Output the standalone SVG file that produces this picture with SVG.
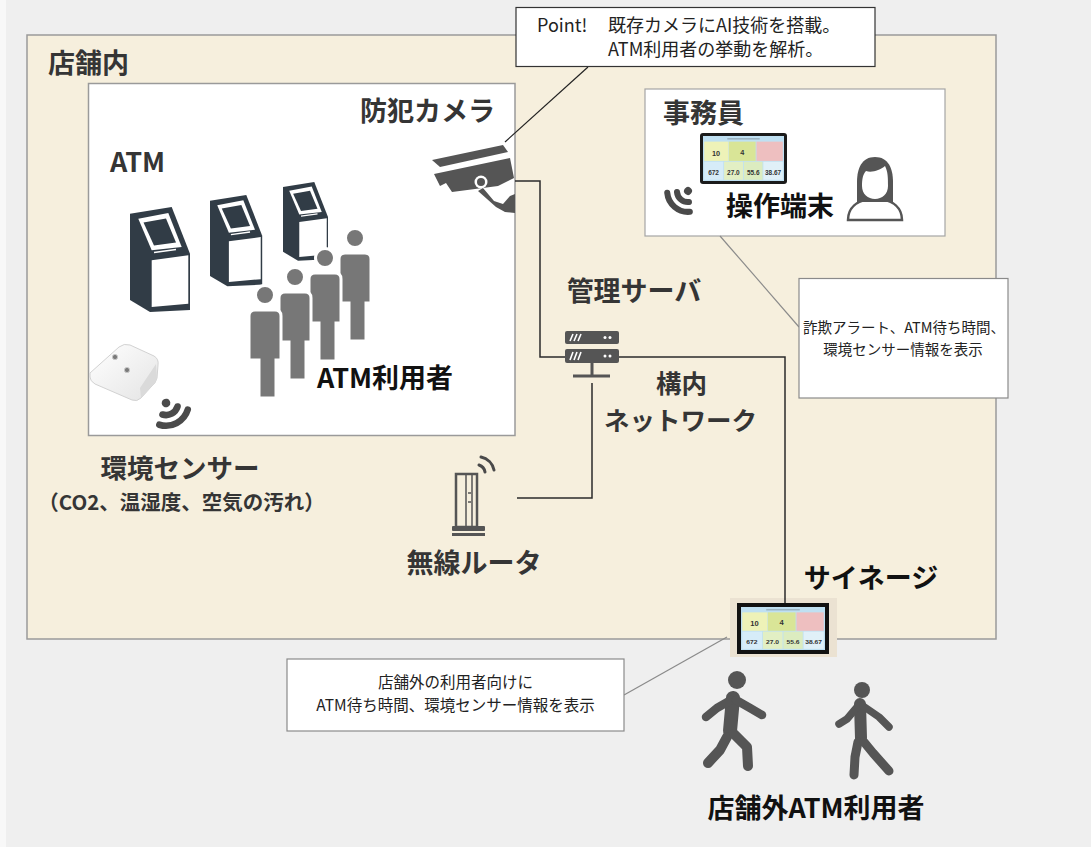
<svg xmlns="http://www.w3.org/2000/svg" xmlns:xlink="http://www.w3.org/1999/xlink" width="1091" height="847" viewBox="0 0 1091 847">
  <style>
    .lbl{font-family:"Noto Sans CJK JP","Noto Sans",sans-serif;font-weight:700;font-size:27px;fill:#353535;text-anchor:middle}
    .blk{fill:#111}
    .note{font-family:"Noto Sans CJK JP","Noto Sans",sans-serif;font-size:15.5px;fill:#222;text-anchor:middle}
    .pt{font-family:"Noto Sans CJK JP","Noto Sans",sans-serif;font-size:18px;fill:#222}
    .conn{stroke:#2b2b2b;stroke-width:1.5;fill:none}
    .lead{stroke:#8a8a8a;stroke-width:1.2;fill:none}
    .ico{fill:#555}
    .wave{fill:none;stroke:#4a4a4a;stroke-linecap:round}
    .walk{fill:none;stroke:#555;stroke-linecap:round;stroke-linejoin:round}
    .dnum{font-family:"Liberation Sans",sans-serif;font-weight:700;fill:#333;text-anchor:middle}
  </style>
  <defs>
    <!-- monitoring dashboard shown on tablet and signage -->
    <symbol id="dash" viewBox="0 0 100 56" preserveAspectRatio="none">
      <rect width="100" height="56" fill="#bfe0f2"/>
      <rect x="30" y="2.5" width="40" height="2" fill="#9bb4c2"/>
      <rect x="1.5" y="7" width="30" height="24" fill="#eef2b8"/>
      <rect x="32" y="7" width="33" height="24" fill="#d9e597"/>
      <rect x="66" y="7" width="32.5" height="24" fill="#eebfc0"/>
      <rect x="1.5" y="32" width="23.5" height="22.5" fill="#d6ecf8"/>
      <rect x="26" y="32" width="23.5" height="22.5" fill="#e2efc4"/>
      <rect x="50.5" y="32" width="23" height="22.5" fill="#dcecc0"/>
      <rect x="74.5" y="32" width="24" height="22.5" fill="#e0f0f8"/>
      <text class="dnum" x="16" y="25" font-size="9">10</text>
      <text class="dnum" x="48.5" y="24" font-size="9">4</text>
      <text class="dnum" x="13" y="48" font-size="8">672</text>
      <text class="dnum" x="37.5" y="48" font-size="8">27.0</text>
      <text class="dnum" x="62" y="48" font-size="8">55.6</text>
      <text class="dnum" x="86.5" y="48" font-size="8">38.67</text>
    </symbol>
    <!-- kiosk silhouette -->
    <g id="kiosk">
      <path d="M0,6.7 L41.7,0 L60,46.7 L60,103 L20,105 L0,93 Z" fill="#313c46"/>
      <path d="M8.3,11.7 L38.3,6 L51.7,40 L21.7,43.3 Z" fill="#fff"/>
      <path d="M13.5,15.5 L36,11.5 L46,35.5 L24,38.5 Z" fill="#313c46"/>
      <path d="M24,45.5 L46,42.5" stroke="#fff" stroke-width="1.6"/>
      <path d="M21.7,53.3 L58.3,48.3 L58.3,96.7 L21.7,100 Z" fill="#fff"/>
    </g>
    <!-- queued person -->
    <g id="pax">
      <circle cx="16" cy="-15" r="9.5"/>
      <path d="M0,6 Q0,0 6,0 L26,0 Q32,0 32,6 L32,50 L27,50 L27,88 L10,88 L10,50 L0,50 Z"/>
    </g>
    <!-- wireless signal, pointing along +x -->
    <g id="wave">
      <circle cx="0" cy="0" r="3.6" fill="#4a4a4a"/>
      <path class="wave" stroke-width="5.5" d="M7.1,-7.1 A10,10 0 0 1 7.1,7.1"/>
      <path class="wave" stroke-width="5.5" d="M13.4,-13.4 A19,19 0 0 1 13.4,13.4"/>
    </g>
    <linearGradient id="boxg" x1="0" y1="0" x2="1" y2="1">
      <stop offset="0" stop-color="#ffffff"/>
      <stop offset="1" stop-color="#e4e4e4"/>
    </linearGradient>
  </defs>

  <!-- backdrop -->
  <rect width="1091" height="847" fill="#efefef"/>
  <rect width="6" height="847" fill="#f8f8f8"/>

  <!-- store area -->
  <g id="store">
    <rect x="27" y="35" width="969" height="604" fill="#f6efdd" stroke="#9a9a9a" stroke-width="1.5"/>
    <text class="lbl" x="88.5" y="73">店舗内</text>
  </g>

  <!-- ATM corner -->
  <g id="atm-area">
    <rect x="88.5" y="83.5" width="426.5" height="352" fill="#fff" stroke="#9a9a9a" stroke-width="1.5"/>
  </g>

  <g id="node-atm">
    <text class="lbl" x="137.5" y="172">ATM</text>
    <use href="#kiosk" transform="translate(130,207)"/>
    <use href="#kiosk" transform="translate(210,195) scale(0.87)"/>
    <use href="#kiosk" transform="translate(283,182) scale(0.75)"/>
  </g>

  <g id="node-users" fill="#777" stroke="#fff" stroke-width="3">
    <use href="#pax" transform="translate(339,253)"/>
    <use href="#pax" transform="translate(309,273)"/>
    <use href="#pax" transform="translate(279,292)"/>
    <use href="#pax" transform="translate(249,310)"/>
    <text class="lbl blk" x="385" y="388" stroke="none">ATM利用者</text>
  </g>

  <g id="node-sensor">
    <path d="M90,373 L119,347 Q124,343 130,345 L154,356 Q159,359 158,365 L157,378 Q156,383 151,387 L141,398 Q137,402 132,400 L95,384 Q90,381 90,377 Z" fill="url(#boxg)" stroke="#d2d2d2" stroke-width="1"/>
    <path d="M140,388 L156,364 L157,378 Q156,383 151,387 L141,398 Z" fill="#dadada"/>
    <circle cx="115" cy="357" r="2.6" fill="#7a7a7a" stroke="#c8c8c8" stroke-width="1"/>
    <circle cx="127" cy="370" r="2.6" fill="#7a7a7a" stroke="#c8c8c8" stroke-width="1"/>
    <use href="#wave" transform="translate(166,403) rotate(62) scale(1.2)"/>
    <text class="lbl" style="font-size:26.5px"><tspan x="180" y="478">環境センサー</tspan><tspan x="181.5" y="510" style="font-size:20.5px">（CO2、温湿度、空気の汚れ）</tspan></text>
  </g>

  <g id="node-camera">
    <text class="lbl" x="427.5" y="121">防犯カメラ</text>
    <path class="ico" d="M432,160 L503,145 L508,152 L440,167 Z"/>
    <path class="ico" d="M434,174 L510,158 L514,178 L498,186 L452,192 L446,183 L440,186 Z"/>
    <circle cx="481" cy="182" r="6.5" fill="#fff"/>
    <circle cx="481" cy="182" r="4" fill="#555"/>
    <path class="ico" d="M483,188 L494,201 L503,204 L510,196 L515,194 L515,213 L505,212 L496,207 L478,191 Z"/>
  </g>

  <g id="node-clerk">
    <rect x="645" y="89" width="300" height="147" fill="#fff" stroke="#a5a5a5" stroke-width="1.2"/>
    <text class="lbl" x="703.5" y="123">事務員</text>
    <rect x="700" y="133" width="87" height="51" rx="3" fill="#1b1b1b"/>
    <use href="#dash" x="703" y="136" width="81" height="45"/>
    <use href="#wave" transform="translate(688,191) rotate(130) scale(1.1)"/>
    <text class="lbl blk" x="780" y="216">操作端末</text>
    <path d="M848,220 C848,207 858,201 868,199 L882,199 C892,201 902,207 902,220 Z" fill="#fff" stroke="#555" stroke-width="2.5"/>
    <path class="ico" d="M875,157 C862,157 857,168 857,182 L857,202 L893,202 L893,182 C893,168 888,157 875,157 Z"/>
    <path d="M866,171 C872,173 880,170 885,166 C888,172 888,178 888,186 C888,194 882,199 875,199 C868,199 862,194 862,186 C862,179 863,174 866,171 Z" fill="#fff"/>
  </g>

  <g id="node-server">
    <text class="lbl" x="634" y="301">管理サーバ</text>
    <rect class="ico" x="565" y="331" width="54" height="13" rx="2"/>
    <rect class="ico" x="565" y="349" width="54" height="14" rx="2"/>
    <g stroke="#fff" stroke-width="1.6">
      <path d="M570,341 L573,334 M574,341 L577,334 M578,341 L581,334"/>
      <path d="M570,360 L573,352 M574,360 L577,352 M578,360 L581,352"/>
    </g>
    <g fill="#fff">
      <circle cx="605" cy="337.5" r="1.5"/><circle cx="610" cy="337.5" r="1.5"/>
      <circle cx="605" cy="356" r="1.5"/><circle cx="610" cy="356" r="1.5"/>
    </g>
    <path d="M592,363 V376 M573,376 H610" stroke="#555" stroke-width="3"/>
  </g>

  <g id="node-network">
    <text class="lbl" style="font-size:25.5px"><tspan x="681.5" y="393">構内</tspan><tspan x="680.5" y="430">ネットワーク</tspan></text>
  </g>

  <g id="node-router">
    <rect x="456" y="474" width="21" height="53" fill="none" stroke="#555" stroke-width="2.5"/>
    <path d="M466,474 V527 M472,474 V527 M468,493 H471 M468,502 H471" stroke="#555" stroke-width="1.5"/>
    <rect class="ico" x="452" y="526" width="33" height="5" rx="1"/>
    <rect class="ico" x="452" y="533" width="33" height="3"/>
    <path class="wave" stroke-width="3" d="M479,465 A9,9 0 0 1 485,472"/>
    <path class="wave" stroke-width="3" d="M481,457 A17,17 0 0 1 494,470"/>
    <text class="lbl" x="474" y="573">無線ルータ</text>
  </g>

  <g id="node-signage">
    <text class="lbl blk" x="871" y="588">サイネージ</text>
    <rect x="730" y="598" width="107" height="59" fill="#ebe2d2"/>
    <rect x="737" y="603" width="92" height="51" fill="#111"/>
    <use href="#dash" x="741" y="607" width="84" height="43"/>
  </g>

  <g id="node-outside-users">
    <circle cx="737" cy="680" r="9" fill="#555"/>
    <path class="walk" stroke-width="14" d="M733,698 L730,731"/>
    <path class="walk" stroke-width="8.5" d="M731,700 L717,708 L706,717"/>
    <path class="walk" stroke-width="8.5" d="M736,700 L750,708 L762,715"/>
    <path class="walk" stroke-width="10" d="M727,737 L720,750 L708,763"/>
    <path class="walk" stroke-width="10" d="M734,734 L747,747 L748,766"/>
    <circle cx="862" cy="690" r="8" fill="#555"/>
    <path class="walk" stroke-width="12" d="M860,704 L861,738"/>
    <path class="walk" stroke-width="7.5" d="M858,706 L847,719 L839,724"/>
    <path class="walk" stroke-width="7.5" d="M863,706 L879,717 L889,727"/>
    <path class="walk" stroke-width="9" d="M858,742 L855,757 L854,775"/>
    <path class="walk" stroke-width="9" d="M864,742 L873,753 L889,771"/>
    <text class="lbl blk" x="816" y="818">店舗外ATM利用者</text>
  </g>

  <!-- network cabling -->
  <g id="connectors">
    <path class="conn" d="M515,181 H540 V357 H565"/>
    <path class="conn" d="M619,357 H785 V603"/>
    <path class="conn" d="M517,498 H592 V383"/>
  </g>

  <!-- explanatory call-outs -->
  <g id="callouts">
    <line x1="588" y1="67" x2="505" y2="142" stroke="#222" stroke-width="1.2"/>
    <rect x="516" y="7.5" width="359" height="59" fill="#fff" stroke="#333" stroke-width="1.2"/>
    <text class="pt"><tspan x="537" y="32">Point!</tspan><tspan x="608" y="32">既存カメラにAI技術を搭載。</tspan><tspan x="608" y="56">ATM利用者の挙動を解析。</tspan></text>

    <line class="lead" x1="720" y1="236" x2="799" y2="327"/>
    <rect x="799" y="278.5" width="209" height="119.5" fill="#fff" stroke="#8a8a8a" stroke-width="1.2"/>
    <text class="note" style="font-size:14.5px"><tspan x="904" y="333">詐欺アラート、ATM待ち時間、</tspan><tspan x="903" y="355">環境センサー情報を表示</tspan></text>

    <line class="lead" x1="624" y1="695" x2="727" y2="637"/>
    <rect x="287" y="659" width="337" height="72" fill="#fff" stroke="#8a8a8a" stroke-width="1.2"/>
    <text class="note"><tspan x="455.5" y="688">店舗外の利用者向けに</tspan><tspan x="455.5" y="711">ATM待ち時間、環境センサー情報を表示</tspan></text>
  </g>
</svg>
